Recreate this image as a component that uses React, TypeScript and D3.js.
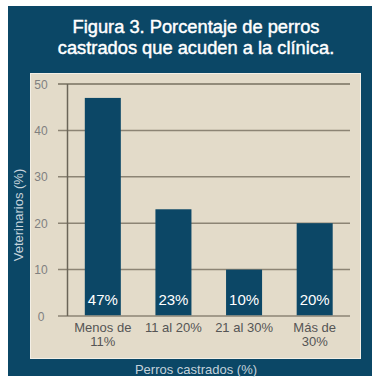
import React from "react";
import * as d3 from "d3";

const categories: string[][] = [["Menos de", "11%"], ["11 al 20%"], ["21 al 30%"], ["Más de", "30%"]];
const values: number[] = [47, 23, 10, 20];
const valueLabels: string[] = ["47%", "23%", "10%", "20%"];
const yTicks: number[] = [0, 10, 20, 30, 40, 50];
const titleLines: string[] = ["Figura 3. Porcentaje de perros", "castrados que acuden a la clínica."];
const yTitle = "Veterinarios (%)";
const xTitle = "Perros castrados (%)";

const FONT = "'Liberation Sans', Arial, Helvetica, sans-serif";

export default function App() {
  const keys = categories.map((c) => c.join(" "));
  const x = d3.scaleBand<string>().domain(keys).range([67.5, 350]).paddingInner(0.49).paddingOuter(0.245);
  const y = d3.scaleLinear().domain([0, 50]).range([316, 84]);
  const grid = "#8c8474";
  return (
    <svg width={372} height={378} style={{ position: "absolute", left: 0, top: 0 }} fontFamily={FONT}>
      <rect x={0} y={0} width={372} height={378} fill="#ffffff" />
      <rect x={8} y={6} width={364} height={370} fill="#0b4766" />
      {titleLines.map((t, i) => (
        <text key={i} x={196} y={32.7 + i * 21.6} textAnchor="middle" fill="#ffffff" stroke="#ffffff" strokeWidth={0.45} fontSize={18.3}>
          {t}
        </text>
      ))}
      <rect x={30.5} y={73.5} width={330} height={285} fill="#e3dbc9" stroke="#f3efe6" strokeWidth={1} />
      {yTicks.map((t) => (
        <g key={t}>
          <line x1={58} x2={350} y1={y(t)} y2={y(t)} stroke={t === 50 ? "#77705f" : grid} strokeWidth={1.5} />
          <text x={41} y={y(t) + 4.5} textAnchor="middle" fontSize={12} fill="#808080">
            {t}
          </text>
        </g>
      ))}
      <line x1={67.5} x2={67.5} y1={y(50)} y2={y(0)} stroke="#6b6558" strokeWidth={1.5} />
      {values.map((v, i) => (
        <g key={i}>
          <rect x={x(keys[i])!} y={y(v)} width={x.bandwidth()} height={y(0) - y(v) - 0.75} fill="#0c4766" />
          <text x={x(keys[i])! + x.bandwidth() / 2} y={304.5} textAnchor="middle" fontSize={15} fill="#ffffff">
            {valueLabels[i]}
          </text>
        </g>
      ))}
      {categories.map((lines, i) =>
        lines.map((l, j) => (
          <text key={i + "-" + j} x={x(keys[i])! + x.bandwidth() / 2} y={332 + j * 14} textAnchor="middle" fontSize={13} fill="#555">
            {l}
          </text>
        ))
      )}
      <text transform="translate(22.5,215) rotate(-90)" textAnchor="middle" fontSize={13} fill="#c5d3dc">
        {yTitle}
      </text>
      <text x={196} y={374} textAnchor="middle" fontSize={13} fill="#c5d3dc">
        {xTitle}
      </text>
    </svg>
  );
}
